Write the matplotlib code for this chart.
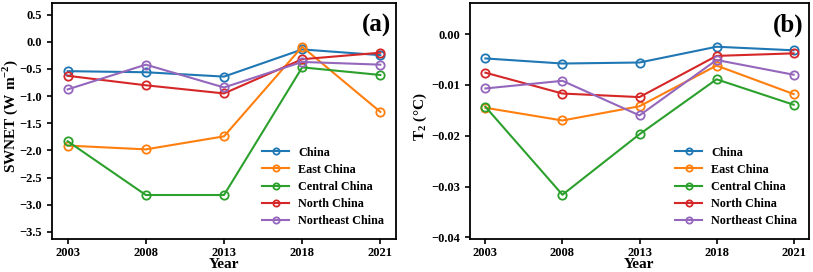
import matplotlib
matplotlib.use("Agg")
import matplotlib.pyplot as plt

years = ["2003", "2008", "2013", "2018", "2021"]
regions = ["China", "East China", "Central China", "North China", "Northeast China"]
colors = ["#1f77b4", "#ff7f0e", "#2ca02c", "#d62728", "#9467bd"]

swnet = {
    "China":           [-0.54, -0.56, -0.64, -0.14, -0.245],
    "East China":      [-1.91, -1.98, -1.74, -0.09, -1.29],
    "Central China":   [-1.83, -2.82, -2.82, -0.47, -0.61],
    "North China":     [-0.625, -0.80, -0.95, -0.32, -0.20],
    "Northeast China": [-0.876, -0.42, -0.84, -0.37, -0.42],
}
t2 = {
    "China":           [-0.0048, -0.0058, -0.0056, -0.0025, -0.0032],
    "East China":      [-0.0145, -0.0170, -0.0142, -0.0062, -0.0118],
    "Central China":   [-0.0143, -0.0316, -0.0197, -0.0089, -0.0139],
    "North China":     [-0.0076, -0.0117, -0.0124, -0.0043, -0.0038],
    "Northeast China": [-0.0107, -0.0092, -0.0160, -0.0051, -0.0080],
}

plt.rcParams['font.family'] = ['Liberation Serif', 'DejaVu Serif']
plt.rcParams['font.weight'] = 'bold'
plt.rcParams['axes.labelweight'] = 'bold'
plt.rcParams['mathtext.fontset'] = 'custom'
plt.rcParams['mathtext.rm'] = 'Liberation Serif:bold'
plt.rcParams['mathtext.bf'] = 'Liberation Serif:bold'

fig = plt.figure(figsize=(8.13, 2.72), dpi=100)
ax1 = fig.add_axes([52/813, 1-239/272, (396-52)/813, (239-3)/272])
ax2 = fig.add_axes([470/813, 1-239/272, (809-470)/813, (239-3)/272])

x = list(range(len(years)))

def draw(ax, data, ylabel, tag, ylim, yticks, fmt, ylx):
    for r, c in zip(regions, colors):
        ax.plot(x, data[r], color=c, lw=1.5, marker='o', ms=6,
                mfc='none', mec=c, mew=1.3, label=r)
    ax.set_xlim(-0.2, 4.2)
    ax.set_ylim(*ylim)
    ax.set_xticks(x)
    ax.set_xticklabels(years)
    ax.set_yticks(yticks)
    ax.set_yticklabels([fmt.format(v).replace('-', '\u2212') for v in yticks])
    ax.tick_params(labelsize=9, width=1.2, length=3.5)
    ax.tick_params(axis='x', pad=2)
    for s in ax.spines.values():
        s.set_linewidth(1.3)
    ax.set_xlabel("Year", fontsize=11, fontweight='bold')
    ax.xaxis.set_label_coords(0.5, -0.082)
    ax.set_ylabel(ylabel, fontsize=11, fontweight='bold')
    ax.yaxis.set_label_coords(ylx, 0.52)
    ax.text(0.985, 0.955, tag, transform=ax.transAxes, ha='right', va='top',
            fontsize=18, fontweight='bold')
    ax.legend(loc='lower right', frameon=False, handlelength=2.2,
              handletextpad=0.75, labelspacing=0.42, markerscale=0.75,
              bbox_to_anchor=(1.0, 0.0), borderaxespad=0.6,
              prop={'weight': 'bold', 'size': 8.7})

draw(ax1, swnet, r"SWNET (W m$^{-2}$)", "(a)", (-3.63, 0.715),
     [0.5, 0.0, -0.5, -1.0, -1.5, -2.0, -2.5, -3.0, -3.5], "{:.1f}", -0.092)
draw(ax2, t2, r"T$_{2}$ ($\degree$C)", "(b)", (-0.0403, 0.0061),
     [0.0, -0.01, -0.02, -0.03, -0.04], "{:.2f}", -0.122)

fig.savefig("out.png", dpi=100)
